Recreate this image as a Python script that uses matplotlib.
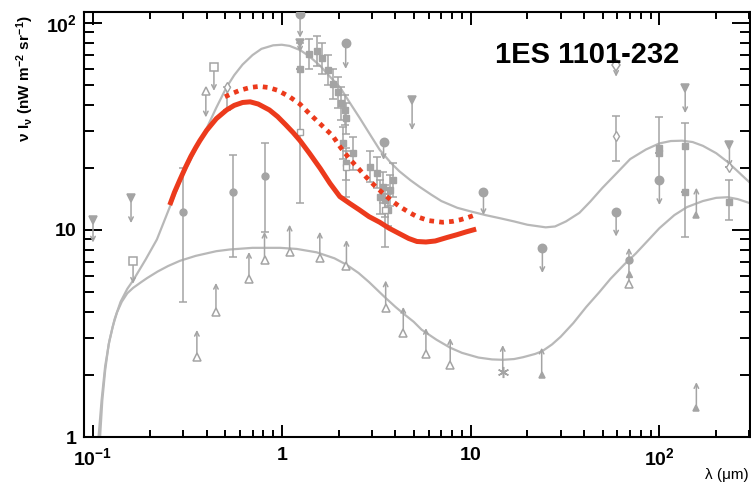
import numpy as np
import matplotlib
matplotlib.use("Agg")
import matplotlib.pyplot as plt

plt.rcParams["font.family"] = ["Liberation Sans", "DejaVu Sans"]
plt.rcParams["mathtext.fontset"] = "custom"
plt.rcParams["mathtext.rm"] = "Liberation Sans:bold"
plt.rcParams["mathtext.it"] = "Liberation Sans:bold"
plt.rcParams["mathtext.bf"] = "Liberation Sans:bold"

# --- EBL model curves (upper / lower envelopes) ---
up_x = [0.107, 0.111, 0.116, 0.122, 0.13, 0.14, 0.152, 0.163, 0.19, 0.218, 0.255, 0.3, 0.35,
        0.4, 0.45, 0.51, 0.56, 0.62, 0.7, 0.78, 0.9, 1.0, 1.1, 1.25, 1.4, 1.6, 1.8, 2.03, 2.3,
        2.6, 3.0, 3.3, 3.8, 4.2, 4.8, 5.4, 6.2, 7, 8.5, 10, 12, 14.3, 17, 20, 25, 28, 32, 37.7,
        43, 50, 60, 70, 85, 100, 115, 132, 150, 170, 200, 230, 260, 300]
up_y = [1.0, 1.5, 2.2, 2.9, 3.7, 4.5, 5.2, 5.7, 7.2, 9.0, 12.9, 18.5, 24.5, 31, 39, 49, 56,
        63, 70, 75, 78, 78.5, 77.5, 74, 69, 62, 55, 49, 41, 34.5, 28, 24.4, 21, 19.2, 17.4,
        16.1, 14.8, 13.8, 12.8, 12.3, 11.8, 11.4, 11.0, 10.6, 10.3, 10.4, 11.0, 12.1, 13.7,
        16, 19, 22, 24.5, 26.2, 26.9, 27, 26.6, 25.5, 23.5, 21.3, 19.2, 17]

lo_x = [0.109, 0.112, 0.116, 0.121, 0.127, 0.134, 0.142, 0.152, 0.163, 0.18, 0.193, 0.22,
        0.25, 0.289, 0.35, 0.45, 0.53, 0.7, 0.98, 1.2, 1.53, 1.9, 2.2, 2.55, 2.9, 3.5, 4.0,
        4.4, 5.0, 5.5, 6.6, 7.8, 9, 11, 13, 14.8, 17, 19, 22, 24, 27, 30, 35, 41, 48, 55, 65,
        75, 87, 100, 120, 140, 170, 200, 230, 260, 300]
lo_y = [1.0, 1.5, 2.1, 2.8, 3.4, 4.0, 4.5, 4.95, 5.25, 5.6, 5.85, 6.3, 6.7, 7.1, 7.5, 7.9,
        8.05, 8.2, 8.2, 8.1, 7.8, 7.3, 6.8, 6.2, 5.6, 4.75, 4.25, 3.95, 3.6, 3.3, 2.95, 2.7,
        2.55, 2.42, 2.37, 2.36, 2.38, 2.43, 2.52, 2.6, 2.8, 3.05, 3.55, 4.25, 5.0, 5.8, 6.8,
        7.7, 8.9, 10.2, 11.8, 12.9, 13.8, 14.3, 14.4, 14.1, 13.5]

# --- derived EBL for 1ES 1101-232 (red) ---
red_x = [0.255, 0.27, 0.288, 0.31, 0.33, 0.35, 0.368, 0.4, 0.45, 0.51, 0.56, 0.62, 0.68,
         0.75, 0.86, 0.95, 1.05, 1.15, 1.25, 1.4, 1.6, 1.8, 2.03, 2.3, 2.58, 2.9, 3.3, 3.7,
         4.2, 4.7, 5.2, 5.8, 6.5, 7.5, 8.5, 9.5, 10.7]
red_y = [13.2, 15.2, 17.4, 20.2, 22.7, 25, 27, 30.3, 34.5, 38, 40, 41.3, 41.6, 40.6, 38,
         35.3, 32.2, 29.5, 27, 23.5, 19.8, 16.8, 14.5, 13.4, 12.5, 11.6, 10.9, 10.2, 9.6, 9.1,
         8.8, 8.75, 8.85, 9.2, 9.5, 9.8, 10.1]

dot_x = [0.5, 0.55, 0.6, 0.68, 0.76, 0.85, 0.95, 1.1, 1.25, 1.4, 1.6, 1.86, 2.05, 2.29,
         2.55, 2.8, 3.1, 3.42, 3.8, 4.2, 4.7, 5.2, 6.0, 7.1, 8.0, 8.8, 9.7, 10.5]
dot_y = [44, 45.8, 47.3, 48.8, 49.4, 48.8, 47.3, 44, 40.5, 36.5, 32.5, 28.5, 25, 22, 19.8,
         18, 16.4, 15.1, 13.9, 13, 12.2, 11.6, 11.1, 10.9, 11.0, 11.2, 11.5, 11.8]

# --- measurements ---
circ_x = [0.30, 0.55, 0.81]
circ_y = [12.2, 15.3, 18.3]
circ_lo = [4.5, 7.4, 9.8]
circ_hi = [20.0, 23.0, 26.4]

nir_x = [1.40, 1.53, 1.63, 1.75, 1.86, 1.98, 2.07, 2.15, 2.20, 2.10, 2.20, 2.37, 2.92, 3.18,
         3.30, 3.42, 3.50, 3.64, 3.73, 3.87]
nir_y = [71, 73.5, 67.5, 59, 51, 46.5, 41, 38, 34.7, 26.4, 21, 23.5, 20.2, 18.9, 14.5, 16.1,
         14, 12.5, 15.6, 17.5]
nir_lo = [60, 62, 57, 50, 43, 39, 34, 32, 29, 22, 17.5, 19.5, 17, 16, 12, 13.5, 11.5, 10.5,
          13, 14.5]
nir_hi = [84, 87, 80, 70, 60, 55, 49, 45, 41, 31.5, 25, 28, 24, 22.5, 17.5, 19, 16.5, 15,
          18.5, 21]

osq_x = [1.25, 2.20, 3.50]
osq_y = [29.6, 20.2, 12.5]
osq_lo = [13.5, 14.5, 8.3]
osq_hi = [80, 24, 15]

fsq_x = [1.25, 100, 100, 137, 137, 235]
fsq_y = [60, 25, 23.5, 25.5, 15.2, 13.6]
fsq_lo = [60, 17.5, 23.5, 9.3, 15.2, 11.2]
fsq_hi = [60, 35.2, 23.5, 33, 15.2, 17.4]

dia_x = [59, 235, 0.51]
dia_y = [28.5, 20.2, 49]
dia_lo = [21.6, 20.2, 38]
dia_hi = [35.6, 20.2, 49]

# upper limits (arrow pointing down)
ul_x = [0.10, 0.159, 0.163, 0.437, 0.396, 1.25, 1.25, 2.18, 3.46, 4.9, 11.7, 24, 59, 59, 100, 137, 235]
ul_y = [11.2, 14.3, 7.1, 61, 47, 110, 80, 80, 26.6, 42.5, 15.2, 8.2, 63, 12.2, 17.5, 48.5, 25.7]
ul_end = [8.7, 10.8, 5.5, 47, 35, 85, 72, 60, 21.8, 30.4, 11.8, 6.2, 55, 9.3, 13.2, 36.7, 20.2]
ul_mk = ["v", "v", "s", "s", "^", "o", "v", "o", "o", "v", "o", "o", "d", "o", "o", "v", "v"]

# lower limits (arrow pointing up)
ll_x = [0.355, 0.448, 0.67, 0.81, 1.1, 1.59, 2.2, 3.55, 4.4, 5.8, 7.8, 14.8, 23.8, 69, 157, 157]
ll_y = [2.43, 4.0, 5.8, 7.2, 7.8, 7.3, 6.7, 4.2, 3.18, 2.52, 2.23, 2.06, 2.0, 5.5, 11.8, 1.38]
ll_end = [3.29, 5.55, 7.83, 9.8, 10.6, 9.8, 8.95, 5.7, 4.25, 3.36, 3.0, 2.78, 2.7, 8.2, 16, 1.84]
ll_mk = ["^", "^", "^", "^", "^", "^", "^", "^", "^", "^", "^", "*", "F", "^", "F", "F"]

extra_x = [69, 69]
extra_y = [6.1, 7.2]
extra_mk = ["^", "o"]

gray = "#a4a4a4"
curve_gray = "#b8b8b8"
red = "#ec3a1c"

fig = plt.figure(figsize=(7.51, 4.86), dpi=100)
ax = fig.add_axes([84 / 751, 49 / 486, 666 / 751, 425 / 486])
ax.set_xscale("log")
ax.set_yscale("log")
ax.set_xlim(0.0896, 302)
ax.set_ylim(1, 113)

ax.plot(up_x, up_y, color=curve_gray, lw=1.6, zorder=2)
ax.plot(lo_x, lo_y, color=curve_gray, lw=1.6, zorder=2)

eb = dict(color=gray, ecolor=gray, elinewidth=1.1, capsize=3, capthick=1.1, ms=5, zorder=3, ls="none")
ax.errorbar(circ_x, circ_y, yerr=[np.subtract(circ_y, circ_lo), np.subtract(circ_hi, circ_y)],
            fmt="o", **eb)
ax.errorbar(nir_x, nir_y, yerr=[np.subtract(nir_y, nir_lo), np.subtract(nir_hi, nir_y)],
            fmt="s", **dict(eb, ms=4))
ax.errorbar(osq_x, osq_y, yerr=[np.subtract(osq_y, osq_lo), np.subtract(osq_hi, osq_y)],
            fmt="s", mfc="white", **eb)
ax.errorbar(fsq_x, fsq_y, yerr=[np.subtract(fsq_y, fsq_lo), np.subtract(fsq_hi, fsq_y)],
            fmt="s", **eb)
ax.errorbar(dia_x, dia_y, yerr=[np.subtract(dia_y, dia_lo), np.subtract(dia_hi, dia_y)],
            fmt="d", mfc="white", **eb)

arrow_kw = dict(arrowstyle="->", color=gray, lw=1.1, shrinkA=0, shrinkB=0, mutation_scale=8)


def limit_marker(mk):
    if mk == "F":
        return "^", gray, 4
    if mk in ("^", "s", "d"):
        return mk, "white", 6
    if mk == "*":
        return (6, 2, 0), gray, 8
    return mk, gray, 6


for x, y, e, mk in list(zip(ul_x, ul_y, ul_end, ul_mk)) + list(zip(ll_x, ll_y, ll_end, ll_mk)):
    ax.annotate("", xy=(x, e), xytext=(x, y), arrowprops=arrow_kw, zorder=3)
    m, fc, s = limit_marker(mk)
    ax.plot([x], [y], marker=m, mfc=fc, mec=gray, ms=s, mew=1.1, ls="none", zorder=3)

for x, y, mk in zip(extra_x, extra_y, extra_mk):
    ax.plot([x], [y], marker=mk, color=gray, ms=5, ls="none", zorder=3)

ax.plot(red_x, red_y, color=red, lw=3.6, solid_capstyle="butt", solid_joinstyle="round", zorder=5)
ax.plot(dot_x, dot_y, color=red, lw=3.4, ls=(0, (1, 1.1)), dash_capstyle="butt", zorder=5)

ax.set_xticks([0.1, 1, 10, 100])
ax.set_xticklabels([r"$10^{-1}$", r"$1$", r"$10$", r"$10^{2}$"])
ax.set_yticks([1, 10, 100])
ax.set_yticklabels([r"$1$", r"$10$", r"$10^{2}$"])
ax.tick_params(which="both", direction="in", top=True, right=True, width=1.4, labelsize=14)
ax.tick_params(axis="x", which="major", length=9, pad=7)
ax.tick_params(axis="x", which="minor", length=5)
ax.tick_params(axis="y", which="major", length=13, pad=5)
ax.tick_params(axis="y", which="minor", length=7)
for sp in ax.spines.values():
    sp.set_linewidth(1.5)

ax.text(0.617, 0.88, "1ES 1101-232", transform=ax.transAxes, fontsize=21,
        fontweight="bold", ha="left", va="baseline")

fig.text(25 / 751, 1 - 79 / 486, r"$\nu\ I_{\nu}\ (nW\ m^{-2}\ sr^{-1})$", rotation=90,
         ha="center", va="center", fontsize=11)
fig.text(749 / 751, 1 - 475 / 486, "λ (μm)", ha="right", va="center", fontsize=11)

fig.savefig("out.png", dpi=100)
